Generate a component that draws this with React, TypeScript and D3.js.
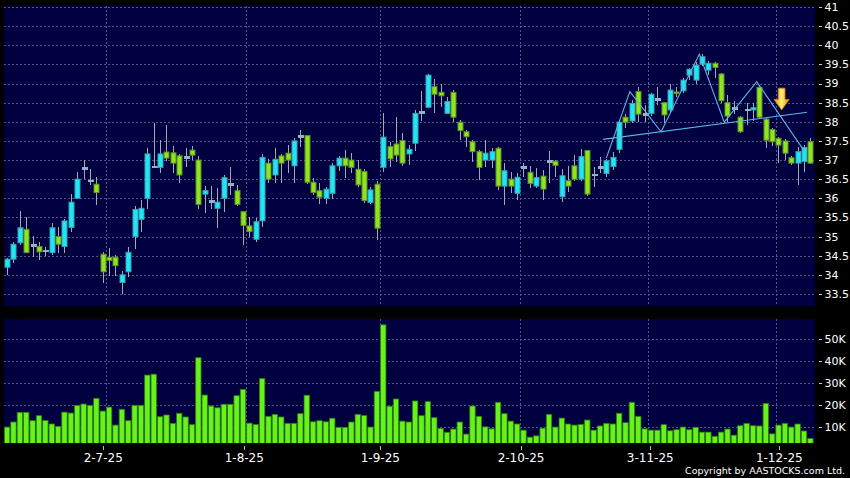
import React from "react";
import * as d3 from "d3";

// ---- Data ----
const openP = [34.20,34.41,34.84,35.19,34.77,34.74,34.63,34.58,35.00,34.74,35.24,36.00,36.78,36.46,36.37,34.54,34.46,34.46,33.80,34.08,35.00,35.45,36.00,36.83,36.81,37.21,37.19,37.11,37.08,37.26,37.00,36.11,35.93,35.74,36.00,36.37,36.20,35.65,35.28,34.93,35.41,36.92,36.61,
37.11,37.18,36.85,37.62,37.64,36.42,36.20,36.00,36.13,36.85,37.05,37.00,36.76,36.70,35.89,36.37,36.81,37.35,37.42,37.51,37.16,37.44,38.25,38.38,38.92,38.77,38.22,38.77,37.99,37.74,37.48,37.22,37.00,37.00,37.31,36.32,36.50,36.13,36.81,36.68,36.32,36.58,36.97,
36.97,36.04,36.46,36.85,36.50,37.25,36.61,36.81,36.65,36.83,37.28,38.12,38.02,38.79,38.20,38.22,38.59,38.50,38.31,38.78,38.81,39.22,39.09,39.51,39.35,39.53,39.25,38.50,38.35,38.12,38.31,38.31,38.90,38.07,37.80,37.57,37.50,37.06,36.92,36.96,37.48];
const highP = [34.43,34.87,35.67,35.52,35.02,34.85,34.72,35.35,35.24,35.46,36.11,36.70,37.00,36.77,36.55,34.61,34.69,34.52,34.11,34.74,35.80,35.96,37.32,37.96,37.52,37.92,37.37,37.15,37.32,37.37,37.11,36.32,36.32,36.26,36.61,36.81,36.35,35.68,35.50,35.48,37.16,37.03,37.31,
37.15,37.39,37.57,37.79,37.66,36.52,36.39,36.30,36.92,37.10,37.26,37.18,37.00,36.76,36.30,36.45,38.22,37.48,38.13,37.70,37.39,38.31,38.81,39.25,39.11,38.99,38.64,38.83,38.05,37.79,37.52,37.26,37.52,37.31,37.33,36.93,36.70,36.65,36.92,36.85,36.80,36.75,37.25,
36.99,36.76,36.84,37.13,37.28,37.27,36.81,37.09,37.04,37.20,38.02,38.20,38.57,38.92,38.44,38.75,38.92,38.52,39.00,38.90,39.15,39.40,39.55,39.77,39.60,39.55,39.28,38.70,38.55,38.15,38.50,38.50,38.95,38.10,37.85,37.60,37.55,37.10,37.35,37.39,37.57];
const lowP = [34.00,34.30,34.78,34.56,34.46,34.39,34.49,34.52,34.58,34.58,35.13,35.98,36.50,36.35,35.83,33.80,33.97,33.97,33.49,33.95,34.68,35.13,35.71,36.80,36.65,36.98,36.65,36.39,36.83,37.00,35.72,35.61,35.72,35.23,35.65,36.09,35.80,34.78,35.00,34.87,35.26,36.39,36.39,
36.41,36.67,36.39,37.35,36.37,36.09,35.85,35.85,35.97,36.72,36.54,36.65,36.30,35.89,35.85,34.91,36.70,36.83,36.96,36.85,36.87,37.25,38.03,38.35,38.22,38.38,38.20,38.00,37.52,37.35,36.96,36.48,36.81,36.80,36.22,35.83,36.13,35.96,36.57,36.28,36.28,35.96,36.39,
36.56,35.91,36.17,36.45,36.45,36.06,36.30,36.65,36.55,36.75,37.18,37.83,37.96,38.00,38.00,38.15,38.44,37.96,38.22,38.65,38.75,39.10,39.00,39.45,39.22,39.15,38.50,38.00,38.20,37.72,37.92,38.02,38.10,37.31,37.37,36.92,37.00,36.88,36.35,36.70,36.90];
const closeP = [34.41,34.80,35.23,34.58,34.77,34.60,34.63,35.23,34.80,35.41,35.90,36.50,36.78,36.46,36.15,34.08,34.38,34.24,34.00,34.59,35.71,35.74,37.16,36.83,37.16,37.05,36.92,36.61,37.08,37.13,35.84,36.20,35.93,35.90,36.54,36.37,35.84,35.29,35.13,35.39,37.07,36.50,37.02,
36.92,37.00,37.50,37.62,36.42,36.15,36.03,36.24,36.85,37.05,36.85,36.81,36.35,35.94,36.22,35.22,37.60,37.03,37.13,36.92,37.28,38.22,38.25,39.22,38.72,38.68,38.53,38.12,37.77,37.61,37.22,36.81,37.18,37.22,36.32,36.72,36.32,36.55,36.81,36.39,36.54,36.24,36.97,
36.86,36.59,36.32,36.50,37.09,36.11,36.61,36.81,36.98,37.07,37.99,37.99,38.48,38.20,38.20,38.72,38.59,38.18,38.83,38.74,39.09,39.37,39.48,39.70,39.53,39.42,38.55,38.15,38.35,37.74,38.31,38.37,38.12,37.52,37.48,37.39,37.18,36.92,37.22,37.33,36.92];
const volumeK = [10.0,12.3,16.7,16.7,12.9,15.2,13.0,11.4,10.3,16.8,16.4,19.9,20.5,19.9,23.1,17.3,19.1,10.9,18.1,12.9,19.9,19.9,33.7,34.1,14.7,15.5,11.7,16.3,14.6,11.1,41.6,24.6,19.6,18.8,20.4,20.4,24.3,27.2,11.8,11.2,32.1,14.9,15.8,
14.6,11.7,11.7,16.1,24.5,12.4,12.9,12.4,14.0,9.9,9.9,12.3,15.8,15.3,10.0,26.3,56.6,19.5,22.8,12.7,12.3,21.9,15.2,21.6,14.3,9.4,7.6,9.1,12.3,6.8,19.6,14.9,10.1,9.2,21.3,16.1,12.7,11.4,8.6,5.4,6.0,9.5,15.8,
10.0,14.1,11.4,10.9,11.2,13.2,8.6,10.5,11.7,11.4,16.3,12.0,21.3,14.9,9.2,8.6,8.6,11.1,8.3,8.8,10.0,8.8,9.9,7.7,7.7,5.8,7.7,9.1,6.3,10.6,11.7,10.6,10.5,20.8,6.9,10.9,11.7,10.0,11.4,8.2,4.8];

const priceTicks = [33.5,34,34.5,35,35.5,36,36.5,37,37.5,38,38.5,39,39.5,40,40.5,41];
const volTicks = [10000,20000,30000,40000,50000];
const volTickLabels = ["10K","20K","30K","40K","50K"];
const dateLabels = ["2-7-25","1-8-25","1-9-25","2-10-25","3-11-25","1-12-25"];
const dateTickIdx = [15.1,37.22,58.56,80.63,100.9,121.14];
const dateGridIdx = [15.58,37.54,58.56,80.52,100.6,120.58];
const supportLine: [number, number][] = [[93.5,37.54],[125.5,38.25]];
const zigzagLine: [number, number][] = [[94.0,37.05],[97.7,38.79],[102.6,37.74],[108.6,39.77],[112.5,37.99],[117.6,39.05],[125.2,37.2]];
const arrowIdx = 121.5;
const arrowTop = 38.88;
const arrowBottom = 38.31;

// ---- Layout ----
const W = 850, H = 478;
const PL = 4, PR = 815;
const priceTop = 6, priceBottom = 306;
const volTop = 319, volBottom = 443;
const FONT = "'DejaVu Sans', Verdana, sans-serif";

export default function App() {
  const n = openP.length;
  const x = d3.scaleLinear().domain([0, n - 1]).range([7, 810.3]);
  const yP = d3.scaleLinear().domain([33.5, 41]).range([294, 7]);
  const yV = d3.scaleLinear().domain([0, 50000]).range([449, 339.3]);
  const lineGen = d3.line<[number, number]>().x(d => x(d[0])).y(d => yP(d[1]));

  const gridColor = "#55558a";
  const bw = 5;

  const ax = x(arrowIdx);
  const at = yP(arrowTop), ab = yP(arrowBottom);
  const am = at + (ab - at) * 0.52;
  const arrowPath = `M${ax - 3.4},${at} L${ax + 3.4},${at} L${ax + 3.4},${am} L${ax + 7.6},${am} L${ax},${ab} L${ax - 7.6},${am} L${ax - 3.4},${am} Z`;

  return (
    <svg width={W} height={H} style={{ position: "absolute", left: 0, top: 0, display: "block" }} fontFamily={FONT}>
      <defs>
        <clipPath id="pclip"><rect x={PL} y={priceTop} width={PR - PL} height={priceBottom - priceTop} /></clipPath>
        <clipPath id="vclip"><rect x={PL} y={volTop} width={PR - PL} height={volBottom - volTop} /></clipPath>
        <linearGradient id="arrowGrad" x1="0" x2="1" y1="0" y2="0">
          <stop offset="0" stopColor="#e89200" />
          <stop offset="0.5" stopColor="#ffec80" />
          <stop offset="1" stopColor="#e89200" />
        </linearGradient>
      </defs>
      <rect x={0} y={0} width={W} height={H} fill="#000" />
      {/* panels */}
      <rect x={PL} y={priceTop} width={PR - PL} height={priceBottom - priceTop} fill="#000040" />
      <rect x={PL} y={volTop} width={PR - PL} height={volBottom - volTop} fill="#000040" />

      {/* price grid */}
      <g stroke={gridColor} strokeDasharray="2,2" shapeRendering="crispEdges">
        {priceTicks.map(t => (
          <line key={"pg" + t} x1={PL} x2={PR} y1={Math.round(yP(t)) + 0.5} y2={Math.round(yP(t)) + 0.5} />
        ))}
        {dateGridIdx.map((d, i) => (
          <line key={"vg" + i} x1={Math.round(x(d)) + 0.5} x2={Math.round(x(d)) + 0.5} y1={priceTop} y2={priceBottom} />
        ))}
        {volTicks.map(t => (
          <line key={"vtg" + t} x1={PL} x2={PR} y1={Math.round(yV(t)) + 0.5} y2={Math.round(yV(t)) + 0.5} />
        ))}
        {dateGridIdx.map((d, i) => (
          <line key={"vvg" + i} x1={Math.round(x(d)) + 0.5} x2={Math.round(x(d)) + 0.5} y1={volTop} y2={volBottom} />
        ))}
      </g>

      {/* candles */}
      <g clipPath="url(#pclip)">
        {openP.map((o, i) => {
          const c = closeP[i];
          const cx = Math.round(x(i));
          const up = c > o;
          const doji = c === o;
          const yTop = yP(Math.max(o, c));
          const yBot = yP(Math.min(o, c));
          const fill = doji ? "#8fb4c4" : up ? "#1ee6f4" : "#8ee41e";
          const stroke = doji ? "#7a98a8" : up ? "#3c9fb0" : "#5f8f22";
          return (
            <g key={"c" + i}>
              <line x1={cx + 0.5} x2={cx + 0.5} y1={yP(highP[i])} y2={yP(lowP[i])} stroke="#a9a9a9" strokeWidth={1} shapeRendering="crispEdges" />
              {doji ? (
                <rect x={cx - 2.5} y={yTop - 1} width={bw + 1} height={2.5} fill={fill} shapeRendering="crispEdges" />
              ) : (
                <rect x={cx - 2} y={yTop} width={bw} height={Math.max(1.5, yBot - yTop)} fill={fill} stroke={stroke} strokeWidth={1} />
              )}
            </g>
          );
        })}
        {/* pattern lines */}
        <path d={lineGen(supportLine) || ""} fill="none" stroke="#5cb6e8" strokeWidth={1.1} />
        <path d={lineGen(zigzagLine) || ""} fill="none" stroke="#5cb6e8" strokeWidth={1.1} />
        <path d={arrowPath} fill="url(#arrowGrad)" stroke="#d08000" strokeWidth={0.8} />
      </g>

      {/* volume */}
      <g clipPath="url(#vclip)">
        {volumeK.map((v, i) => {
          const cx = x(i);
          const yTopV = yV(v * 1000);
          return (
            <rect key={"v" + i} x={cx - 2.6} y={yTopV} width={5.4} height={volBottom - yTopV + 2} fill="#66f21c" stroke="#2f7a0c" strokeWidth={0.8} />
          );
        })}
      </g>

      {/* right price axis */}
      <g fill="#ffffff" fontSize={11}>
        {priceTicks.map(t => (
          <g key={"pt" + t}>
            <line x1={819} x2={822} y1={Math.round(yP(t)) + 0.5} y2={Math.round(yP(t)) + 0.5} stroke="#cccccc" shapeRendering="crispEdges" />
            <text x={824.5} y={yP(t)} dy="0.36em">{String(t)}</text>
          </g>
        ))}
        {volTicks.map((t, i) => (
          <g key={"vt" + t}>
            <line x1={819} x2={822} y1={Math.round(yV(t)) + 0.5} y2={Math.round(yV(t)) + 0.5} stroke="#cccccc" shapeRendering="crispEdges" />
            <text x={824.5} y={yV(t)} dy="0.36em">{volTickLabels[i]}</text>
          </g>
        ))}
      </g>

      {/* x axis */}
      <g fill="#ffffff" fontSize={12}>
        {dateLabels.map((lab, i) => (
          <g key={"dl" + i}>
            <line x1={Math.round(x(dateTickIdx[i])) + 0.5} x2={Math.round(x(dateTickIdx[i])) + 0.5} y1={446} y2={450} stroke="#bbbbbb" shapeRendering="crispEdges" />
            <text x={x(dateTickIdx[i])} y={462} textAnchor="middle">{lab}</text>
          </g>
        ))}
      </g>
      <text x={845} y={473.5} textAnchor="end" fill="#ffffff" fontSize={9.5}>Copyright by AASTOCKS.com Ltd.</text>
    </svg>
  );
}
